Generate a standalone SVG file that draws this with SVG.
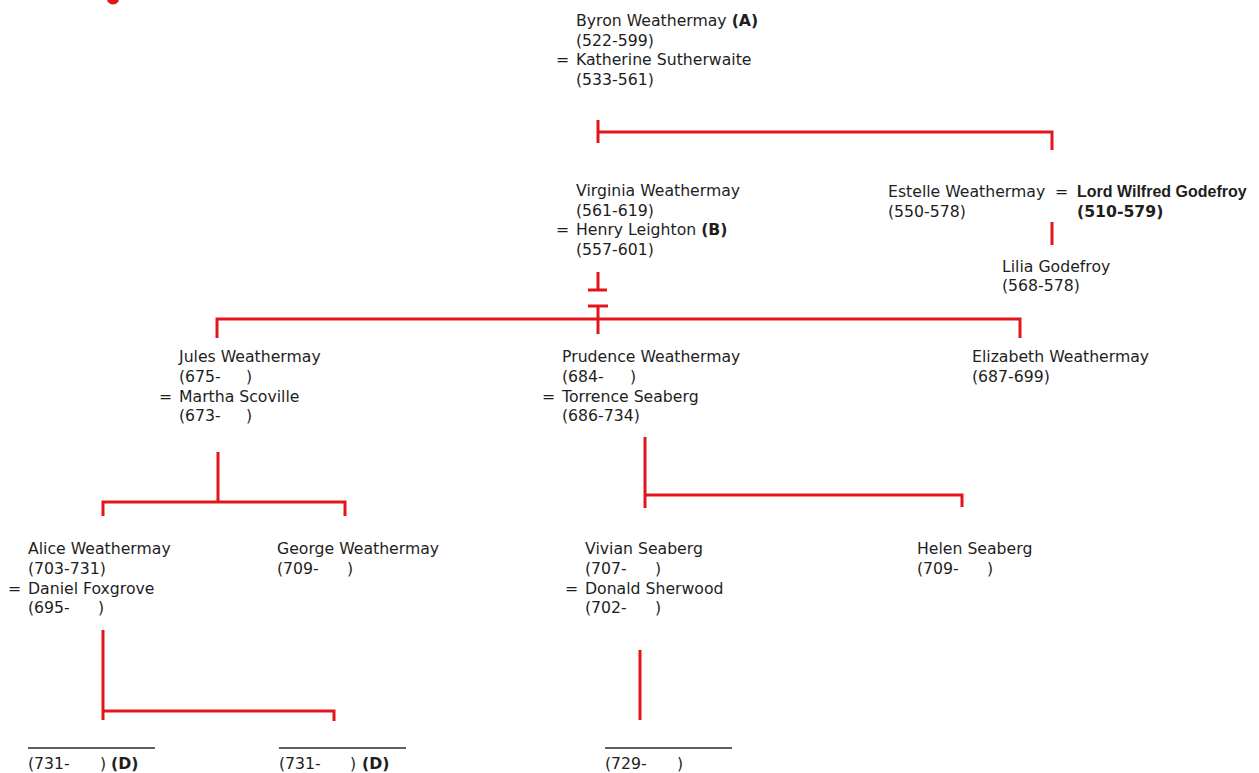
<svg xmlns="http://www.w3.org/2000/svg" width="1259" height="773" viewBox="0 0 1259 773">
<style>
text{font-family:"DejaVu Sans","Liberation Sans",sans-serif;font-size:15.7px;fill:#1e1e1e}
.b{font-weight:bold}
.lb{font-family:"Liberation Sans",Arial,sans-serif;font-weight:bold;font-size:16px}
.c{stroke:#e3141c;stroke-width:3;fill:none}
.u{stroke:#2a2a2a;stroke-width:1.5}
</style>
<rect width="1259" height="773" fill="#fff"/>
<path d="M108 0 Q113 6 118 0" fill="#e3141c" stroke="#e3141c" stroke-width="3"/>
<g id="connectors" class="c">
<path d="M598 120V143M598 132H1052V150"/>
<path d="M1052 222V245"/>
<path d="M598 272V290M588 290H607M588 306H608M598 306V334"/>
<path d="M217 338V319H1020V338"/>
<path d="M218 452V502M103 516V502H345V516"/>
<path d="M645 437V508M645 495H962V507"/>
<path d="M103 630V720M103 711H334V721"/>
<path d="M640 650V720"/>
</g>
<g id="byron">
<text x="576" y="26">Byron Weathermay <tspan class="b">(A)</tspan></text>
<text x="576" y="46">(522-599)</text>
<text x="556" y="65">=</text>
<text x="576" y="65">Katherine Sutherwaite</text>
<text x="576" y="85">(533-561)</text>
</g>
<g id="virginia">
<text x="576" y="196">Virginia Weathermay</text>
<text x="576" y="216">(561-619)</text>
<text x="556" y="235">=</text>
<text x="576" y="235">Henry Leighton <tspan class="b">(B)</tspan></text>
<text x="576" y="255">(557-601)</text>
</g>
<g id="estelle">
<text x="888" y="197">Estelle Weathermay</text>
<text x="888" y="217">(550-578)</text>
<text x="1055" y="197">=</text>
<text x="1077" y="197" class="lb">Lord Wilfred Godefroy</text>
<text x="1077" y="217" class="b">(510-579)</text>
</g>
<g id="lilia">
<text x="1002" y="272">Lilia Godefroy</text>
<text x="1002" y="291">(568-578)</text>
</g>
<g id="jules">
<text x="179" y="362">Jules Weathermay</text>
<text x="179" y="382">(675-</text><text x="246" y="382">)</text>
<text x="159" y="402">=</text>
<text x="179" y="402">Martha Scoville</text>
<text x="179" y="421">(673-</text><text x="246" y="421">)</text>
</g>
<g id="prudence">
<text x="562" y="362">Prudence Weathermay</text>
<text x="562" y="382">(684-</text><text x="630" y="382">)</text>
<text x="542" y="402">=</text>
<text x="562" y="402">Torrence Seaberg</text>
<text x="562" y="421">(686-734)</text>
</g>
<g id="elizabeth">
<text x="972" y="362">Elizabeth Weathermay</text>
<text x="972" y="382">(687-699)</text>
</g>
<g id="alice">
<text x="28" y="554">Alice Weathermay</text>
<text x="28" y="574">(703-731)</text>
<text x="8" y="594">=</text>
<text x="28" y="594">Daniel Foxgrove</text>
<text x="28" y="613">(695-</text><text x="98" y="613">)</text>
</g>
<g id="george">
<text x="277" y="554">George Weathermay</text>
<text x="277" y="574">(709-</text><text x="347" y="574">)</text>
</g>
<g id="vivian">
<text x="585" y="554">Vivian Seaberg</text>
<text x="585" y="574">(707-</text><text x="655" y="574">)</text>
<text x="565" y="594">=</text>
<text x="585" y="594">Donald Sherwood</text>
<text x="585" y="613">(702-</text><text x="655" y="613">)</text>
</g>
<g id="helen">
<text x="917" y="554">Helen Seaberg</text>
<text x="917" y="574">(709-</text><text x="987" y="574">)</text>
</g>
<g id="child1">
<line class="u" x1="28" y1="748" x2="155" y2="748"/>
<text x="28" y="769">(731-</text><text x="100" y="769">)</text><text x="111" y="769" class="b">(D)</text>
</g>
<g id="child2">
<line class="u" x1="279" y1="748" x2="406" y2="748"/>
<text x="279" y="769">(731-</text><text x="350" y="769">)</text><text x="362" y="769" class="b">(D)</text>
</g>
<g id="child3">
<line class="u" x1="605" y1="748" x2="732" y2="748"/>
<text x="605" y="769">(729-</text><text x="677" y="769">)</text>
</g>
</svg>
